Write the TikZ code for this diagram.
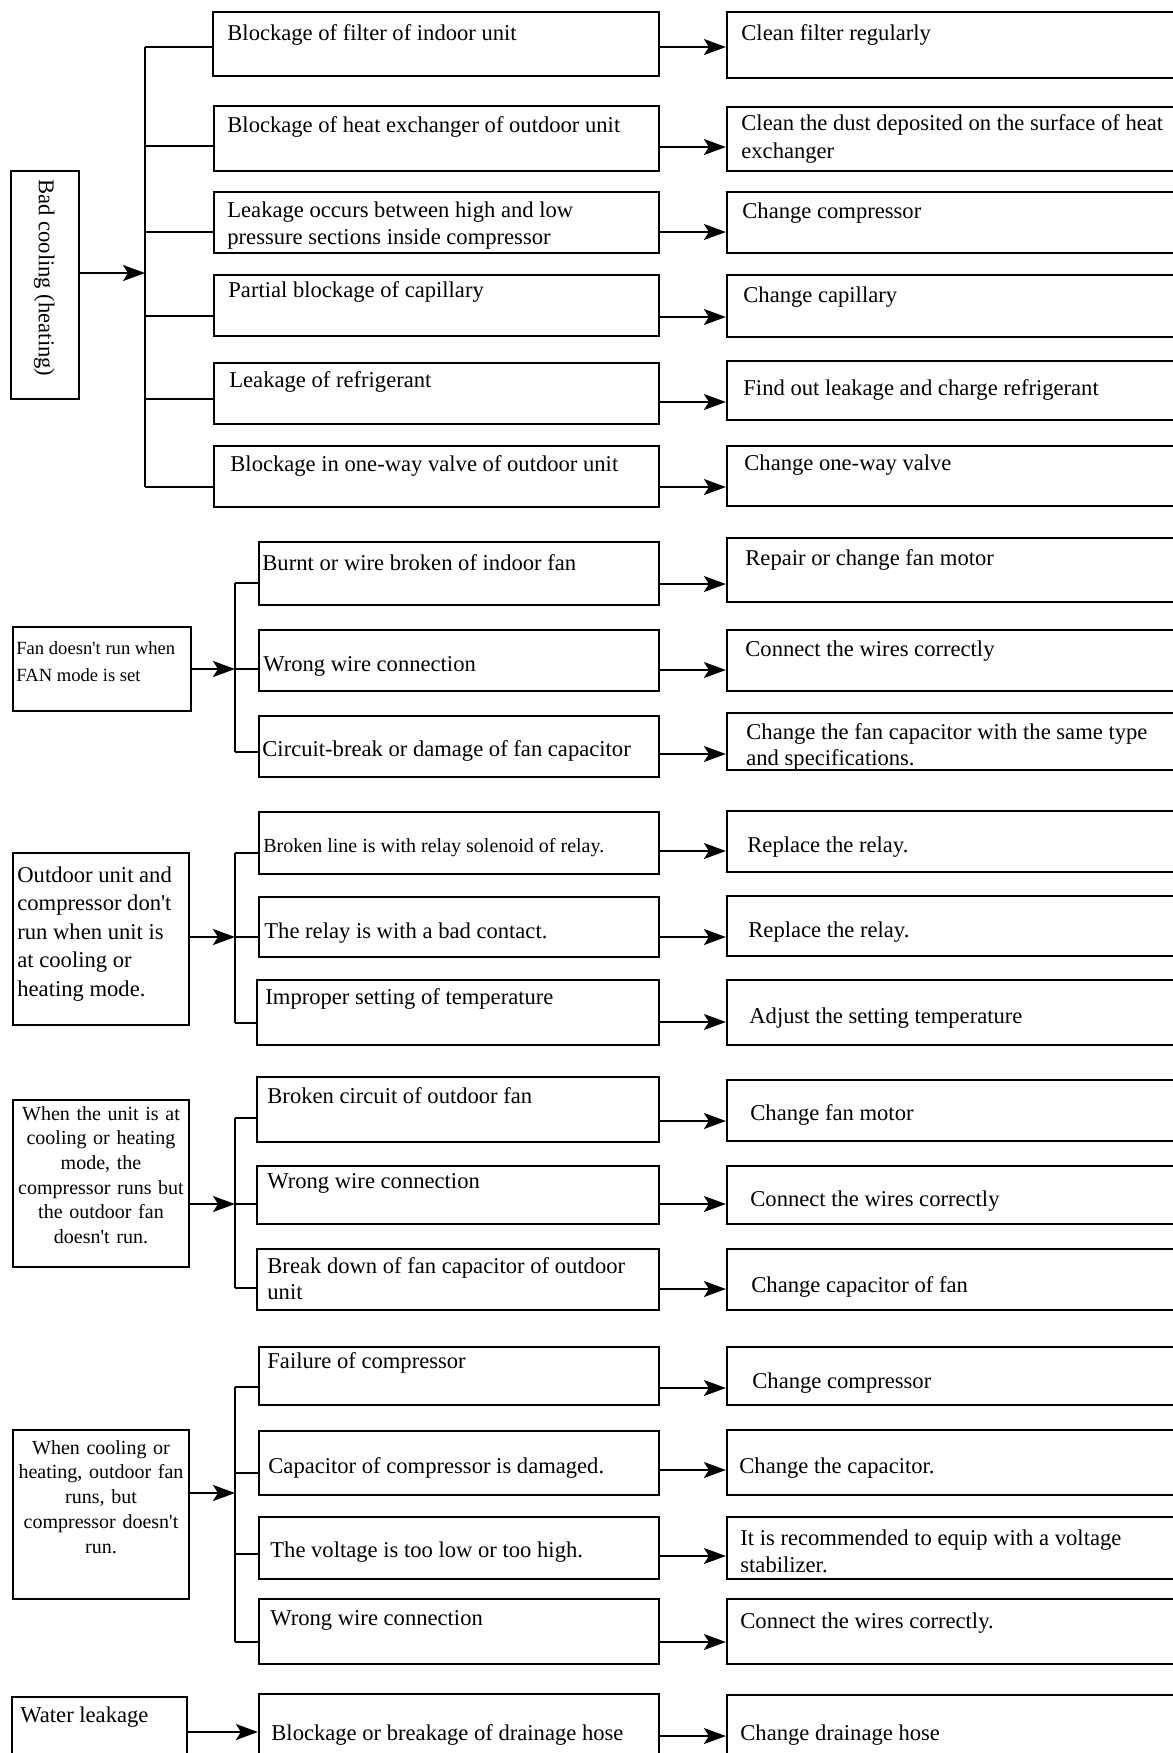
\documentclass[tikz,border=0pt]{standalone}
\usepackage{fontspec}
\setmainfont{Liberation Serif}[Ligatures=TeXOff]
\usetikzlibrary{arrows.meta,fit}
\newcommand\fN{\fontsize{11.3}{13.5}\selectfont}
\tikzset{
  pbox/.style={draw, line width=1.1pt, inner sep=0pt, rectangle},
  txt/.style={inner sep=0pt, anchor=base west, font=\fN},
  ml/.style={text width=222pt, align=flush left},
  ln/.style={line width=1pt},
  arr/.style={line width=1pt, -{Stealth[length=11pt,width=8pt,inset=2.5pt]}},
}
\newcommand\bx[5]{\node[pbox,fit={(#2,#3) (#4,#5)}] (#1) {};}
\newcommand\tx[5][]{\node[txt,#1] (#2) at (#3,#4) {#5};}
\begin{document}
\begin{tikzpicture}[x=0.5pt,y=-0.5pt]
\fill[white] (0,0) rectangle (1173,1753);
\useasboundingbox (0,0) rectangle (1173,1753);
\clip (0,0) rectangle (1173,1753);

% ---------------- Section 1 ----------------
\bx{B1}{11}{171}{79}{399}
\node[txt, rotate=-90] (B1t) at (39,179) {Bad cooling (heating)};
\coordinate (bus1) at (145,0);

\bx{c11}{213}{12}{659}{76}
\bx{c12}{214}{106}{659}{171}
\bx{c13}{214}{192}{659}{253}
\bx{c14}{214}{275}{659}{336}
\bx{c15}{214}{363}{659}{424}
\bx{c16}{214}{446}{659}{507}
\tx{c11t}{227}{40}{Blockage of filter of indoor unit}
\tx{c12t}{227}{132}{Blockage of heat exchanger of outdoor unit}
\tx[ml,font=\fontsize{11.3}{13.5}\selectfont]{c13t}{227}{217}{Leakage occurs between high and low\\pressure sections inside compressor}
\tx{c14t}{228}{297}{Partial blockage of capillary}
\tx{c15t}{229}{387}{Leakage of refrigerant}
\tx{c16t}{230}{471}{Blockage in one-way valve of outdoor unit}

\bx{s11}{727}{12}{1190}{78}
\bx{s12}{727}{107}{1190}{171}
\bx{s13}{727}{192}{1190}{253}
\bx{s14}{727}{275}{1190}{337}
\bx{s15}{727}{361}{1190}{420}
\bx{s16}{727}{446}{1190}{506}
\tx{s11t}{741}{40}{Clean filter regularly}
\tx[ml,font=\fontsize{11.3}{14}\selectfont]{s12t}{741}{130}{Clean the dust deposited on the surface of heat\\exchanger}
\tx{s13t}{742}{218}{Change compressor}
\tx{s14t}{743}{302}{Change capillary}
\tx{s15t}{743}{395}{Find out leakage and charge refrigerant}
\tx{s16t}{744}{470}{Change one-way valve}

\draw[ln] (bus1 |- 0,47) -- (bus1 |- 0,487);
\draw[arr] (B1.east |- 0,273) -- (bus1 |- 0,273);
\draw[ln] (bus1 |- 0,47) -- (c11.west |- 0,47);
\draw[ln] (bus1 |- 0,146) -- (c12.west |- 0,146);
\draw[ln] (bus1 |- 0,232) -- (c13.west |- 0,232);
\draw[ln] (bus1 |- 0,316) -- (c14.west |- 0,316);
\draw[ln] (bus1 |- 0,399) -- (c15.west |- 0,399);
\draw[ln] (bus1 |- 0,487) -- (c16.west |- 0,487);
\draw[arr] (c11.east |- 0,47) -- (s11.west |- 0,47);
\draw[arr] (c12.east |- 0,147) -- (s12.west |- 0,147);
\draw[arr] (c13.east |- 0,232) -- (s13.west |- 0,232);
\draw[arr] (c14.east |- 0,317) -- (s14.west |- 0,317);
\draw[arr] (c15.east |- 0,402) -- (s15.west |- 0,402);
\draw[arr] (c16.east |- 0,487) -- (s16.west |- 0,487);

% ---------------- Section 2 ----------------
\bx{B2}{13}{627}{191}{711}
\node[txt, ml, font=\fontsize{9.3}{13.75}\selectfont] (B2t) at (16,654) {Fan doesn't run when\\FAN mode is set};
\coordinate (bus2) at (235,0);
\bx{c21}{259}{542}{659}{605}
\bx{c22}{259}{630}{659}{691}
\bx{c23}{259}{716}{659}{777}
\tx{c21t}{262}{570}{Burnt or wire broken of indoor fan}
\tx{c22t}{263}{671}{Wrong wire connection}
\tx{c23t}{262}{756}{Circuit-break or damage of fan capacitor}
\bx{s21}{727}{538}{1190}{602}
\bx{s22}{727}{630}{1190}{691}
\bx{s23}{727}{713}{1190}{770}
\tx{s21t}{745}{565}{Repair or change fan motor}
\tx{s22t}{745}{656}{Connect the wires correctly}
\tx[ml,font=\fontsize{11.3}{13}\selectfont]{s23t}{746}{739}{Change the fan capacitor with the same type\\and specifications.}

\draw[ln] (bus2 |- 0,583) -- (bus2 |- 0,752);
\draw[arr] (B2.east |- 0,669) -- (bus2 |- 0,669);
\draw[ln] (bus2 |- 0,583) -- (c21.west |- 0,583);
\draw[ln] (bus2 |- 0,669) -- (c22.west |- 0,669);
\draw[ln] (bus2 |- 0,752) -- (c23.west |- 0,752);
\draw[arr] (c21.east |- 0,584) -- (s21.west |- 0,584);
\draw[arr] (c22.east |- 0,670) -- (s22.west |- 0,670);
\draw[arr] (c23.east |- 0,754) -- (s23.west |- 0,754);

% ---------------- Section 3 ----------------
\bx{B3}{13}{853}{189}{1025}
\node[txt, ml, font=\fontsize{11.3}{14.3}\selectfont] (B3t) at (17,882) {Outdoor unit and\\compressor don't\\run when unit is\\at cooling or\\heating mode.};
\coordinate (bus3) at (235,0);
\bx{c31}{259}{812}{659}{874}
\bx{c32}{259}{897}{659}{957}
\bx{c33}{257}{980}{659}{1045}
\tx[font=\fontsize{10}{12}\selectfont]{c31t}{263}{852}{Broken line is with relay solenoid of relay.}
\tx{c32t}{264}{938}{The relay is with a bad contact.}
\tx{c33t}{265}{1004}{Improper setting of temperature}
\bx{s31}{727}{811}{1190}{872}
\bx{s32}{727}{896}{1190}{956}
\bx{s33}{727}{980}{1190}{1045}
\tx{s31t}{747}{852}{Replace the relay.}
\tx{s32t}{748}{937}{Replace the relay.}
\tx{s33t}{749}{1023}{Adjust the setting temperature}

\draw[ln] (bus3 |- 0,853) -- (bus3 |- 0,1023);
\draw[arr] (B3.east |- 0,937) -- (bus3 |- 0,937);
\draw[ln] (bus3 |- 0,853) -- (c31.west |- 0,853);
\draw[ln] (bus3 |- 0,937) -- (c32.west |- 0,937);
\draw[ln] (bus3 |- 0,1023) -- (c33.west |- 0,1023);
\draw[arr] (c31.east |- 0,851) -- (s31.west |- 0,851);
\draw[arr] (c32.east |- 0,937) -- (s32.west |- 0,937);
\draw[arr] (c33.east |- 0,1022) -- (s33.west |- 0,1022);

% ---------------- Section 4 ----------------
\bx{B4}{13}{1100}{189}{1267}
\node[txt, anchor=base, text width=88pt, align=center, font=\fontsize{10}{12.35}\selectfont] (B4t) at (101,1120) {When the unit is at\\cooling or heating\\mode, the\\compressor runs but\\the outdoor fan\\doesn't run.};
\coordinate (bus4) at (235,0);
\bx{c41}{257}{1077}{659}{1142}
\bx{c42}{257}{1166}{659}{1224}
\bx{c43}{257}{1249}{659}{1310}
\tx{c41t}{267}{1103}{Broken circuit of outdoor fan}
\tx{c42t}{267}{1188}{Wrong wire connection}
\tx[ml,font=\fontsize{11.3}{13}\selectfont]{c43t}{267}{1273}{Break down of fan capacitor of outdoor\\unit}
\bx{s41}{727}{1080}{1190}{1141}
\bx{s42}{727}{1166}{1190}{1224}
\bx{s43}{727}{1249}{1190}{1310}
\tx{s41t}{750}{1120}{Change fan motor}
\tx{s42t}{750}{1206}{Connect the wires correctly}
\tx{s43t}{751}{1292}{Change capacitor of fan}

\draw[ln] (bus4 |- 0,1118) -- (bus4 |- 0,1288);
\draw[arr] (B4.east |- 0,1204) -- (bus4 |- 0,1204);
\draw[ln] (bus4 |- 0,1118) -- (c41.west |- 0,1118);
\draw[ln] (bus4 |- 0,1204) -- (c42.west |- 0,1204);
\draw[ln] (bus4 |- 0,1288) -- (c43.west |- 0,1288);
\draw[arr] (c41.east |- 0,1121) -- (s41.west |- 0,1121);
\draw[arr] (c42.east |- 0,1204) -- (s42.west |- 0,1204);
\draw[arr] (c43.east |- 0,1289) -- (s43.west |- 0,1289);

% ---------------- Section 5 ----------------
\bx{B5}{13}{1430}{189}{1599}
\node[txt, anchor=base, text width=88pt, align=center, font=\fontsize{10}{12.4}\selectfont] (B5t) at (101,1454) {When cooling or\\heating, outdoor fan\\runs, but\\compressor doesn't\\run.};
\coordinate (bus5) at (235,0);
\bx{c51}{259}{1347}{659}{1405}
\bx{c52}{259}{1431}{659}{1495}
\bx{c53}{259}{1517}{659}{1579}
\bx{c54}{259}{1599}{659}{1664}
\tx{c51t}{267}{1368}{Failure of compressor}
\tx{c52t}{268}{1473}{Capacitor of compressor is damaged.}
\tx{c53t}{270}{1557}{The voltage is too low or too high.}
\tx{c54t}{270}{1625}{Wrong wire connection}
\bx{s51}{727}{1347}{1190}{1405}
\bx{s52}{727}{1430}{1190}{1495}
\bx{s53}{727}{1517}{1190}{1579}
\bx{s54}{727}{1599}{1190}{1664}
\tx{s51t}{752}{1388}{Change compressor}
\tx{s52t}{739}{1473}{Change the capacitor.}
\tx[ml,font=\fontsize{11.3}{13.5}\selectfont]{s53t}{740}{1545}{It is recommended to equip with a voltage\\stabilizer.}
\tx{s54t}{740}{1628}{Connect the wires correctly.}

\draw[ln] (bus5 |- 0,1387) -- (bus5 |- 0,1642);
\draw[arr] (B5.east |- 0,1493) -- (bus5 |- 0,1493);
\draw[ln] (bus5 |- 0,1387) -- (c51.west |- 0,1387);
\draw[ln] (bus5 |- 0,1473) -- (c52.west |- 0,1473);
\draw[ln] (bus5 |- 0,1554) -- (c53.west |- 0,1554);
\draw[ln] (bus5 |- 0,1642) -- (c54.west |- 0,1642);
\draw[arr] (c51.east |- 0,1388) -- (s51.west |- 0,1388);
\draw[arr] (c52.east |- 0,1470) -- (s52.west |- 0,1470);
\draw[arr] (c53.east |- 0,1556) -- (s53.west |- 0,1556);
\draw[arr] (c54.east |- 0,1642) -- (s54.west |- 0,1642);

% ---------------- Section 6 ----------------
\bx{B6}{12}{1697}{187}{1775}
\bx{c61}{259}{1694}{659}{1775}
\bx{s61}{727}{1695}{1190}{1775}
\tx{B6t}{20}{1722}{Water leakage}
\tx{c61t}{271}{1740}{Blockage or breakage of drainage hose}
\tx{s61t}{740}{1740}{Change drainage hose}
\draw[arr] (B6.east |- 0,1732) -- (c61.west |- 0,1732);
\draw[arr] (c61.east |- 0,1736) -- (s61.west |- 0,1736);
\end{tikzpicture}
\end{document}
